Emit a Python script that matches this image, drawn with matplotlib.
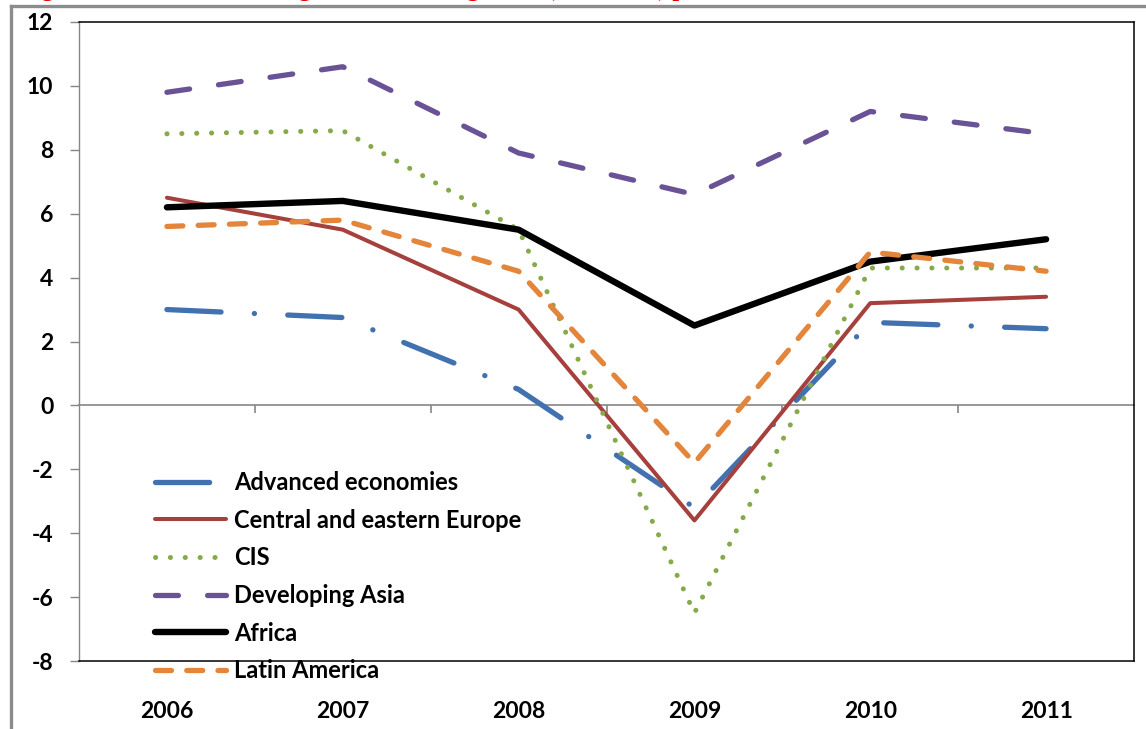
import numpy as np
import matplotlib
matplotlib.use('Agg')
import matplotlib.pyplot as plt
from matplotlib.lines import Line2D

# data
years = ['2006', '2007', '2008', '2009', '2010', '2011']
advanced = [3.0, 2.75, 0.5, -3.2, 2.6, 2.4]
cee = [6.5, 5.5, 3.0, -3.6, 3.2, 3.4]
cis = [8.5, 8.6, 5.5, -6.5, 4.3, 4.3]
dev_asia = [9.8, 10.6, 7.9, 6.6, 9.2, 8.5]
africa = [6.2, 6.4, 5.5, 2.5, 4.5, 5.2]
latam = [5.6, 5.8, 4.2, -1.8, 4.8, 4.2]

plt.rcParams['lines.scale_dashes'] = False
plt.rcParams['axes.unicode_minus'] = False
plt.rcParams['font.family'] = ['Lato', 'DejaVu Sans']

W, H = 1146, 729
fig = plt.figure(figsize=(W / 100, H / 100), dpi=100)
ax = fig.add_axes([79 / W, (H - 661) / H, 1055 / W, 639 / H])

x = np.arange(len(years))

ax.plot(x, advanced, color='#4271B0', lw=3.8, solid_capstyle='round',
        dash_capstyle='round', dashes=(39, 24, 0.1, 24), label='Advanced economies')
ax.plot(x, cee, color='#A5403D', lw=2.9, solid_capstyle='round',
        label='Central and eastern Europe')
ax.plot(x, cis, color='#86A94A', lw=3.6, dash_capstyle='round',
        dashes=(0.1, 10.6), label='CIS')
ax.plot(x, dev_asia, color='#6A5296', lw=3.8, dash_capstyle='round',
        dashes=(16.5, 21), label='Developing Asia')
ax.plot(x, africa, color='black', lw=4.6, solid_capstyle='round',
        solid_joinstyle='round', label='Africa')
ax.plot(x, latam, color='#E3853A', lw=3.8, dash_capstyle='round',
        dashes=(11.5, 11), label='Latin America')

ax.set_xlim(-0.5, 5.5)
ax.set_ylim(-8, 12)
ax.set_yticks(range(-8, 13, 2))
ax.set_xticks(x)
ax.set_xticklabels(years)

for s in ['top', 'right', 'bottom']:
    ax.spines[s].set_color('black')
    ax.spines[s].set_linewidth(1.1)
ax.spines['left'].set_color('#868686')
ax.spines['left'].set_linewidth(1.0)

ax.tick_params(axis='y', direction='out', length=6.5, width=1, color='#868686',
               labelsize=16.5, pad=12)
ax.tick_params(axis='x', length=0, labelsize=16.5, pad=29)
for t in ax.get_xticklabels() + ax.get_yticklabels():
    t.set_fontweight('bold')

# zero line with category boundary ticks
zero = ax.secondary_xaxis(0.4)
zero.set_xticks(np.arange(0.5, 5.0, 1.0))
zero.tick_params(direction='out', length=6, width=1.2, color='#868686', labelbottom=False)
zero.spines['bottom'].set_color('#868686')
zero.spines['bottom'].set_linewidth(1.2)

leg = ax.legend(loc='upper left', bbox_to_anchor=(155 / W, 1 - 471 / H),
                bbox_transform=fig.transFigure, frameon=False, borderpad=0,
                borderaxespad=0, handlelength=3.0, handletextpad=0.34,
                labelspacing=0.62, prop={'size': 17, 'weight': 'bold'})
leg.set_zorder(10)

# outer grey frame, partly off the picture
fig.add_artist(Line2D([11 / W, 11 / W], [0, 1 - 6 / H], color='#8C8C8C', lw=2.4))
fig.add_artist(Line2D([11 / W, 1], [1 - 6 / H, 1 - 6 / H], color='#8C8C8C', lw=2.4))

# title cut off at the top of the picture
fig.text(20 / W, 1.0 + 3.8 / H, 'Figure 1: Growth across regions, real GDP growth (2006-2011) percent',
         color='#E00000', fontsize=17.5, fontweight='bold', family='Liberation Serif',
         va='baseline', ha='left')

fig.savefig('out.png', dpi=100)
